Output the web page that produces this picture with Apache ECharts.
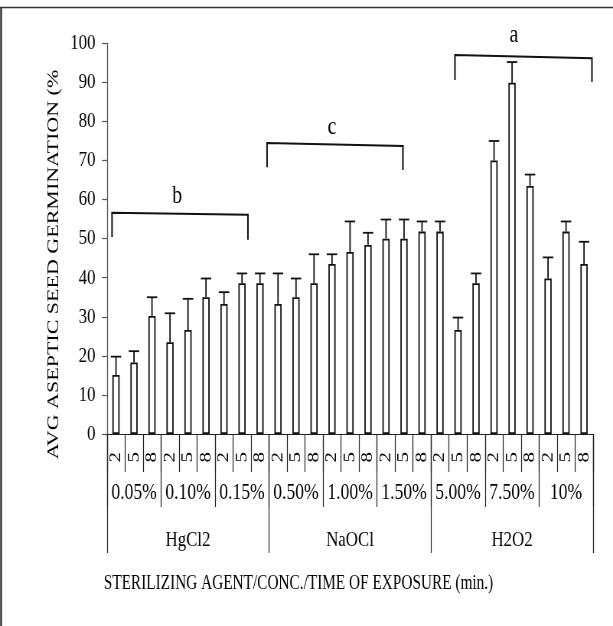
<!DOCTYPE html>
<html>
<head>
<meta charset="utf-8">
<script src="https://cdn.jsdelivr.net/npm/echarts@6/dist/echarts.min.js"></script>
<style>
  html, body { margin: 0; padding: 0; background: #fff; overflow: hidden; }
  #wrap { width: 613px; height: 626px; overflow: hidden; position: relative; }
  #main { width: 801px; height: 626px; transform: scaleX(0.7653); transform-origin: 0 0; }
</style>
</head>
<body>
<div id="wrap"><div id="main"></div></div>
<script>
// ---- data ----
const times = ['2','5','8','2','5','8','2','5','8','2','5','8','2','5','8','2','5','8','2','5','8','2','5','8','2','5','8'];
const concLabels = ['0.05%','0.10%','0.15%','0.50%','1.00%','1.50%','5.00%','7.50%','10%'];
const agentLabels = ['HgCl2','NaOCl','H2O2'];
const means = [15.1,18.3,30.2,23.5,26.6,35.0,33.3,38.6,38.6,
               33.3,35.0,38.6,43.5,46.6,48.4,50.0,50.0,51.8,
               51.8,26.6,38.6,70.0,89.9,63.5,39.8,51.8,43.5];
const upper = [19.8,21.2,35.0,30.9,34.6,39.8,36.3,41.1,41.1,
               41.1,39.8,46.0,46.0,54.4,51.5,54.9,54.9,54.4,
               54.4,29.8,41.1,75.0,95.2,66.4,45.2,54.4,49.2];
const yTicks = [0,10,20,30,40,50,60,70,80,90,100];
// significance brackets (positions in category units from the axis start, values in %)
const bracketLabels = ['b','c','a'];
const bracketFrom = [0.28, 8.89, 19.33];
const bracketTo = [7.83, 16.44, 26.94];
const bracketTopL = [56.6, 74.5, 97.0];
const bracketTopR = [56.1, 73.7, 96.2];
const bracketFootL = [50.4, 68.3, 90.6];
const bracketFootR = [49.7, 67.6, 90.1];
const bracketLabelU = [3.9, 12.5, 22.6];
const bracketLabelY = [61.0, 78.6, 102.0];
const yTitle = 'AVG ASEPTIC SEED GERMINATION (%';
const xTitle = 'STERILIZING AGENT/CONC./TIME OF EXPOSURE (min.)';

const FONT = '"Liberation Serif", "Times New Roman", serif';
const chart = echarts.init(document.getElementById('main'), null, { renderer: 'canvas' });

const option = {
  animation: false,
  backgroundColor: '#fff',
  textStyle: { fontFamily: FONT },
  grid: { left: 139.8, right: 26.1, top: 43.3, bottom: 192 },
  xAxis: [
    {
      type: 'category', data: times, position: 'bottom', gridIndex: 0,
      axisLine: { show: true, lineStyle: { color: '#222', width: 1 } },
      axisTick: { show: true, interval: 0, length: 38, lineStyle: { color: '#222', width: 1.2 } },
      axisLabel: { interval: 0, rotate: 90, margin: 18, fontFamily: FONT, fontSize: 21, color: '#000' }
    },
    {
      type: 'category', data: concLabels, position: 'bottom', gridIndex: 0,
      axisLine: { show: false },
      axisTick: { show: true, interval: 0, length: 73, lineStyle: { color: '#222', width: 1.2 } },
      axisLabel: { interval: 0, margin: 47, fontFamily: FONT, fontSize: 23, color: '#000' }
    },
    {
      type: 'category', data: agentLabels, position: 'bottom', gridIndex: 0,
      axisLine: { show: false },
      axisTick: { show: true, interval: 0, length: 119, lineStyle: { color: '#222', width: 1.2 } },
      axisLabel: { interval: 0, margin: 95, fontFamily: FONT, fontSize: 22, color: '#000' }
    }
  ],
  yAxis: {
    type: 'value', min: 0, max: 100, interval: 10,
    axisLine: { show: true, lineStyle: { color: '#555', width: 1.3 } },
    axisTick: { show: true, length: 6.5, lineStyle: { color: '#555', width: 1.2 } },
    splitLine: { show: false },
    axisLabel: { margin: 15, fontFamily: FONT, fontSize: 22, color: '#000',
      formatter: v => (yTicks.indexOf(v) >= 0 ? String(v) : '') }
  },
  series: [
    {
      type: 'bar', data: means, barWidth: 9.5, xAxisIndex: 0, yAxisIndex: 0,
      itemStyle: { color: '#fff', borderColor: '#111', borderWidth: 1.8 }
    },
    {
      type: 'custom', xAxisIndex: 0, yAxisIndex: 0, clip: false,
      data: means.map((m, i) => [i, m, upper[i]]),
      encode: { x: 0, y: [1, 2] },
      renderItem: function (params, api) {
        const i = api.value(0);
        const p0 = api.coord([i, api.value(1)]);
        const p1 = api.coord([i, api.value(2)]);
        const half = api.size([1, 0])[0] * 0.29;
        const st = { stroke: '#111', lineWidth: 1.8 };
        return { type: 'group', children: [
          { type: 'line', shape: { x1: p0[0], y1: p0[1], x2: p1[0], y2: p1[1] }, style: st },
          { type: 'line', shape: { x1: p1[0] - half, y1: p1[1], x2: p1[0] + half, y2: p1[1] }, style: st }
        ] };
      }
    },
    {
      type: 'custom', xAxisIndex: 0, yAxisIndex: 0, clip: false,
      data: bracketLabels.map((l, i) => [i, bracketTopL[i]]),
      encode: { x: 0, y: 1 },
      renderItem: function (params, api) {
        const k = params.dataIndex;
        const band = api.size([1, 0])[0];
        const x0 = api.coord([0, 0])[0] - band / 2;
        const xL = x0 + bracketFrom[k] * band;
        const xR = x0 + bracketTo[k] * band;
        const y = v => api.coord([0, v])[1];
        return { type: 'group', children: [
          { type: 'polyline', shape: { points: [[xL, y(bracketFootL[k])], [xL, y(bracketTopL[k])], [xR, y(bracketTopR[k])], [xR, y(bracketFootR[k])]] },
            style: { stroke: '#111', lineWidth: 2, fill: null } },
          { type: 'text', x: x0 + bracketLabelU[k] * band, y: y(bracketLabelY[k]),
            style: { text: bracketLabels[k], fontFamily: FONT, fontSize: 26, fill: '#000', align: 'center', verticalAlign: 'middle' } }
        ] };
      }
    }
  ],
  graphic: [
    { type: 'line', shape: { x1: 0, y1: 7.5, x2: 801, y2: 7.5 }, style: { stroke: '#333', lineWidth: 1.6 } },
    { type: 'line', shape: { x1: 1.4, y1: 7, x2: 1.4, y2: 626 }, style: { stroke: '#333', lineWidth: 2.4 } },
    { type: 'text', x: 70, y: 264.5, rotation: Math.PI / 2,
      style: { text: yTitle, fontFamily: FONT, fontSize: 22, fill: '#000', align: 'center', verticalAlign: 'middle' } },
    { type: 'text', x: 390, y: 584,
      style: { text: xTitle, fontFamily: FONT, fontSize: 20, fill: '#000', align: 'center', verticalAlign: 'middle' } }
  ]
};
chart.setOption(option);
</script>
</body>
</html>
